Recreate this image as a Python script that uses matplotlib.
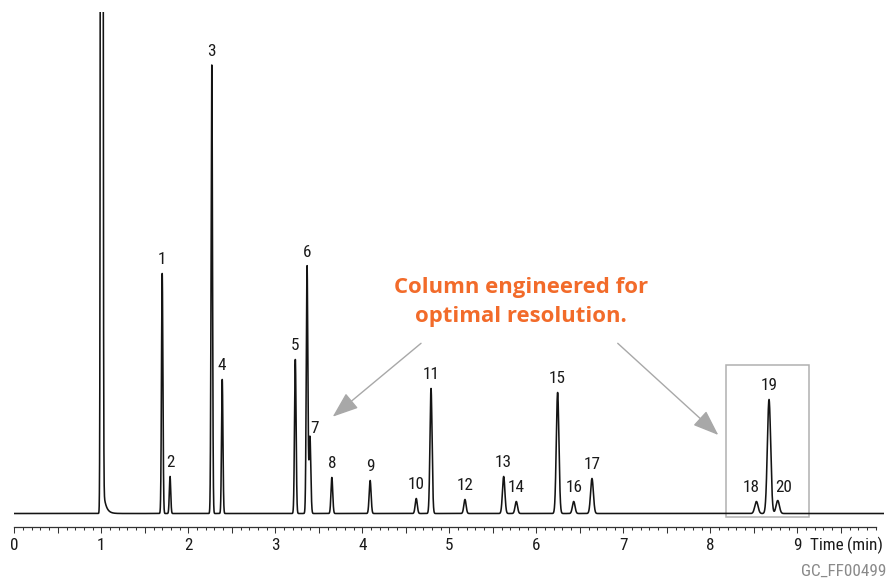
import os
import numpy as np
import matplotlib
matplotlib.use("Agg")
import matplotlib.pyplot as plt
from matplotlib import font_manager
from matplotlib.font_manager import FontProperties
from matplotlib.ft2font import FT2Font
from matplotlib.patches import Rectangle
from matplotlib.ticker import FixedLocator

# ---------------- data ----------------
peak_labels = [str(i) for i in range(1, 21)]
retention_times = [1.70, 1.79, 2.27, 2.39, 3.23, 3.365, 3.398, 3.65, 4.09, 4.62,
                   4.79, 5.18, 5.625, 5.77, 6.245, 6.43, 6.64, 8.53, 8.675, 8.775]
peak_heights = [240, 37, 448.5, 134, 154, 247.5, 77, 36, 33, 15,
                125, 14, 37, 12, 121, 12, 35, 12, 114, 13]
peak_sigmas = [0.008, 0.008, 0.008, 0.008, 0.009, 0.009, 0.010, 0.010, 0.011, 0.012,
               0.012, 0.013, 0.014, 0.014, 0.015, 0.015, 0.016, 0.019, 0.019, 0.019]
solvent_rt = 1.005
solvent_height = 6000
solvent_sigma = 0.008
solvent_tail_height = 42
solvent_tail_tau = 0.03
x_tick_values = [0, 1, 2, 3, 4, 5, 6, 7, 8, 9]
x_tick_labels = ["0", "1", "2", "3", "4", "5", "6", "7", "8", "9"]
x_label_parts = ["Time", "(min)"]
callout_lines = ["Column engineered for", "optimal resolution."]
figure_code = "GC_FF00499"

# ---------------- fonts ----------------
files = {os.path.basename(f.fname).lower(): f.fname for f in font_manager.fontManager.ttflist}
cond_path = None
for cand in ["liberationsansnarrow-regular.ttf", "notosans-condensed.ttf",
             "robotocondensed-regular.ttf", "opensans-condensedlight.ttf",
             "dejavusanscondensed.ttf"]:
    if cand in files:
        cond_path = files[cand]
        break


def cfont(size):
    if cond_path:
        return FontProperties(fname=cond_path, size=size)
    return FontProperties(family="DejaVu Sans", stretch="condensed", size=size)


sep = " "
if cond_path:
    try:
        if FT2Font(cond_path).get_char_index(0x2009):
            sep = "\u2009"
    except Exception:
        pass
x_label = sep.join(x_label_parts)

names = {f.name for f in font_manager.fontManager.ttflist}
bold_family = "Open Sans" if "Open Sans" in names else "DejaVu Sans"

# ---------------- signal ----------------
t = np.linspace(0, 10.0, 40001)
signal = np.zeros_like(t)
signal += solvent_height * np.exp(-0.5 * ((t - solvent_rt) / solvent_sigma) ** 2)
dt = np.clip(t - solvent_rt, 0, None)
tail = np.where(t > solvent_rt, solvent_tail_height * np.exp(-dt / solvent_tail_tau), 0.0)
tail *= 1 - np.exp(-0.5 * (dt / solvent_sigma) ** 2)
signal += tail
for rt, h, s in zip(retention_times, peak_heights, peak_sigmas):
    signal += h * np.exp(-0.5 * ((t - rt) / s) ** 2)

# ---------------- figure ----------------
W, H = 887, 581
fig = plt.figure(figsize=(W / 100, H / 100), dpi=100)
ax = fig.add_axes([14.3 / W, (H - 527) / H, 870 / W, (527 - 12) / H])
ax.set_xlim(0, 10.0)
ax.set_ylim(-13.5, 501.5)

ax.plot(t, signal, color="#141414", lw=1.15)

for sp in ["top", "right", "left"]:
    ax.spines[sp].set_visible(False)
ax.spines["bottom"].set_bounds(0, 9.9)
ax.spines["bottom"].set_color("#333333")
ax.spines["bottom"].set_linewidth(0.9)
ax.set_yticks([])

major_pos = np.arange(0, 9.95, 0.5)
ax.xaxis.set_major_locator(FixedLocator(major_pos))
ax.xaxis.set_minor_locator(FixedLocator(np.arange(0, 9.95, 0.1)))
ax.set_xticklabels([x_tick_labels[x_tick_values.index(int(v))] if float(v).is_integer() else ""
                    for v in major_pos])
for lbl in ax.get_xticklabels():
    lbl.set_fontproperties(cfont(12.3))
    lbl.set_color("#1a1a1a")
ax.tick_params(axis="x", which="major", direction="out", length=4.3, width=0.75,
               color="#333333", pad=3.3)
ax.tick_params(axis="x", which="minor", direction="out", length=2.2, width=0.75,
               color="#333333")

ax.text(9.985, -31.5, x_label, ha="right", va="center", fontproperties=cfont(12.3),
        color="#1a1a1a", clip_on=False)

# peak labels
label_offsets = {"7": (3, 6), "18": (-4, 10), "20": (4, 9)}
for lab, rt, h in zip(peak_labels, retention_times, peak_heights):
    dx, dy = label_offsets.get(lab, (0, 10))
    ax.annotate(lab, xy=(rt, h), xytext=(dx, dy), textcoords="offset points",
                ha="center", va="center", fontproperties=cfont(12.3), color="#1a1a1a")

# box around 18-20
ax.add_patch(Rectangle((8.18, -3.2), 0.96, 152.0, fill=False,
                       edgecolor="#b0b0b0", lw=1.1))

# callout text
orange = "#f26b2a"
ax.text(5.824, 513.5 - 287.3, callout_lines[0], ha="center", va="center",
        fontsize=15.9, fontweight="bold", color=orange, family=bold_family)
ax.text(5.824, 513.5 - 316.7, callout_lines[1], ha="center", va="center",
        fontsize=15.9, fontweight="bold", color=orange, family=bold_family)

arrow_kw = dict(arrowstyle="-|>,head_length=0.8,head_width=0.3",
                color="#a8a8a8", lw=1.0, mutation_scale=20, shrinkA=0, shrinkB=0)
ax.annotate("", xy=(3.66, 96.8), xytext=(4.675, 170.2), arrowprops=arrow_kw)
ax.annotate("", xy=(8.092, 78.5), xytext=(6.936, 170.2), arrowprops=arrow_kw)

fig.text(886.7 / W, (H - 571.7) / H, figure_code, ha="right", va="center",
         fontproperties=cfont(12.3), color="#8a8a8a")

fig.savefig("out.png", dpi=100)
